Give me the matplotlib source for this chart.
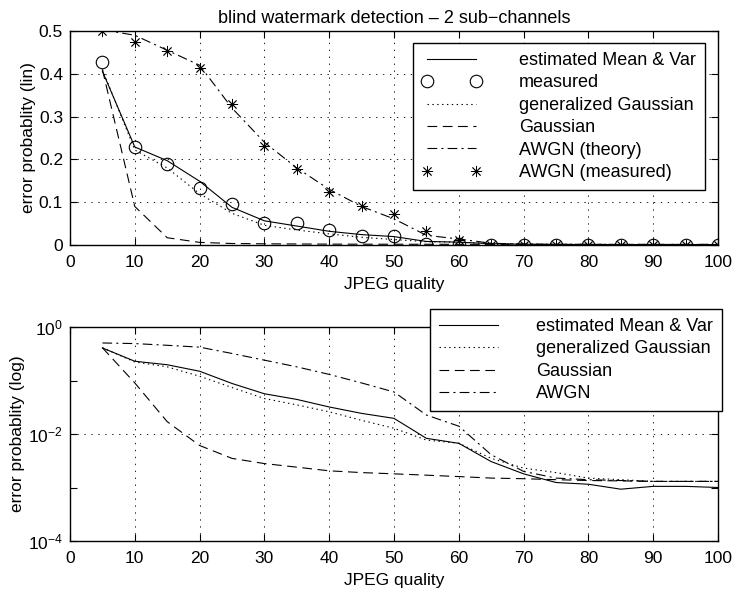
import numpy as np
import matplotlib
matplotlib.use("Agg")
import matplotlib.pyplot as plt
from matplotlib.ticker import FixedLocator, NullFormatter

plt.rcParams['font.family'] = ['Liberation Sans', 'DejaVu Sans']
plt.rcParams['font.size'] = 12.5
plt.rcParams['lines.scale_dashes'] = False

quality = [5, 10, 15, 20, 25, 30, 35, 40, 45, 50, 55, 60, 65, 70, 75, 80, 85, 90, 95, 100]

# estimated Mean & Var
est_mean_var = [0.406, 0.229, 0.197, 0.149, 0.088, 0.0565, 0.0443, 0.032, 0.0243, 0.0196,
                0.0083, 0.0067, 0.00305, 0.0018, 0.00124, 0.00115, 0.00093, 0.00105, 0.00105, 0.0010]
# measured
measured = [0.428, 0.229, 0.19, 0.133, 0.095, 0.051, 0.052, 0.035, 0.02, 0.021,
            0.003, 0.002, 0, 0, 0, 0, 0, 0, 0, 0]
# generalized Gaussian
gen_gauss = [0.41, 0.222, 0.18, 0.12, 0.074, 0.046, 0.035, 0.026, 0.018, 0.0128,
             0.0077, 0.0067, 0.0035, 0.0023, 0.0019, 0.0015, 0.0014, 0.0013, 0.0013, 0.0013]
# Gaussian
gauss = [0.41, 0.09, 0.017, 0.0061, 0.0035, 0.0028, 0.0024, 0.00205, 0.0019, 0.0018,
         0.0017, 0.0016, 0.0015, 0.00146, 0.0014, 0.00135, 0.00133, 0.0013, 0.0013, 0.0013]
# AWGN (theory)
awgn_theory = [0.503, 0.49, 0.455, 0.42, 0.32, 0.24, 0.18, 0.13, 0.09, 0.061,
               0.0226, 0.014, 0.0041, 0.002, 0.0015, 0.0014, 0.00135, 0.0013, 0.0013, 0.0013]
# AWGN (measured)
awgn_measured = [0.5, 0.475, 0.454, 0.413, 0.33, 0.231, 0.178, 0.125, 0.09, 0.072,
                 0.033, 0.012, 0, 0, 0, 0, 0, 0, 0, 0]

lw = 0.8
dash = (7, 4)
dashdot = (7, 3, 1.5, 3)
dotted = (1, 2.5)
star = (8, 2, 0)


def style_axes(ax):
    ax.set_xlim(0, 100)
    ax.set_xticks(np.arange(0, 101, 10))
    ax.tick_params(direction='in', top=True, right=True, length=5, width=0.8,
                   labelsize=12.5)
    ax.tick_params(axis='x', pad=7)
    ax.tick_params(axis='y', pad=5)
    ax.tick_params(which='minor', direction='in', top=True, right=True, length=5, width=0.8)
    ax.grid(True, which='major', color='black', linestyle=(0, (1, 4)), linewidth=0.6)
    for s in ax.spines.values():
        s.set_linewidth(1.0)
    ax.set_xlabel('JPEG quality', labelpad=5)


def add_legend(ax, right, top, **kw):
    leg = ax.legend(loc='upper right', bbox_to_anchor=(right / 735, 1 - top / 594),
                    bbox_transform=fig.transFigure, handlelength=3.3,
                    handletextpad=2.1, borderpad=0.5, labelspacing=0.3,
                    borderaxespad=0, fancybox=False, edgecolor='black',
                    framealpha=1, fontsize=13, **kw)
    leg.get_frame().set_linewidth(1.0)
    return leg


fig = plt.figure(figsize=(7.35, 5.94), dpi=100)
ax1 = fig.add_axes([70 / 735, 1 - 245 / 594, 648 / 735, 214 / 594])
ax2 = fig.add_axes([70 / 735, 1 - 541 / 594, 648 / 735, 214 / 594])

# top panel: linear
ax1.plot(quality, est_mean_var, color='black', lw=lw, label='estimated Mean & Var')
ax1.plot(quality, measured, linestyle='none', marker='o', ms=9, mfc='none', mec='black',
         mew=0.8, label='measured')
ax1.plot(quality, gen_gauss, color='black', lw=lw, dashes=dotted, label='generalized Gaussian')
ax1.plot(quality, gauss, color='black', lw=lw, dashes=dash, label='Gaussian')
ax1.plot(quality, awgn_theory, color='black', lw=lw, dashes=dashdot, label='AWGN (theory)')
ax1.plot(quality, awgn_measured, linestyle='none', marker=star, ms=8, color='black',
         mew=0.6, label='AWGN (measured)')
style_axes(ax1)
ax1.set_ylim(0, 0.5)
ax1.set_yticks([0, 0.1, 0.2, 0.3, 0.4, 0.5])
ax1.set_yticklabels(['0', '0.1', '0.2', '0.3', '0.4', '0.5'])
ax1.set_ylabel('error probablity (lin)', labelpad=2)
ax1.set_title('blind watermark detection \u2013 2 sub\u2212channels', fontsize=13, pad=6)
add_legend(ax1, 705, 43, numpoints=2)

# bottom panel: log
ax2.semilogy(quality, est_mean_var, color='black', lw=lw, label='estimated Mean & Var')
ax2.semilogy(quality, gen_gauss, color='black', lw=lw, dashes=dotted, label='generalized Gaussian')
ax2.semilogy(quality, gauss, color='black', lw=lw, dashes=dash, label='Gaussian')
ax2.semilogy(quality, awgn_theory, color='black', lw=lw, dashes=dashdot, label='AWGN')
style_axes(ax2)
ax2.set_ylim(1e-4, 1)
ax2.yaxis.set_major_locator(FixedLocator([1e-4, 1e-2, 1]))
ax2.yaxis.set_minor_locator(FixedLocator([1e-3, 1e-1]))
ax2.yaxis.set_minor_formatter(NullFormatter())
ax2.set_ylabel('error probablity (log)', labelpad=2)
leg2 = add_legend(ax2, 722, 309)
leg2.set_zorder(10)
ax2.set_zorder(5)

fig.savefig('out.png', dpi=100)
